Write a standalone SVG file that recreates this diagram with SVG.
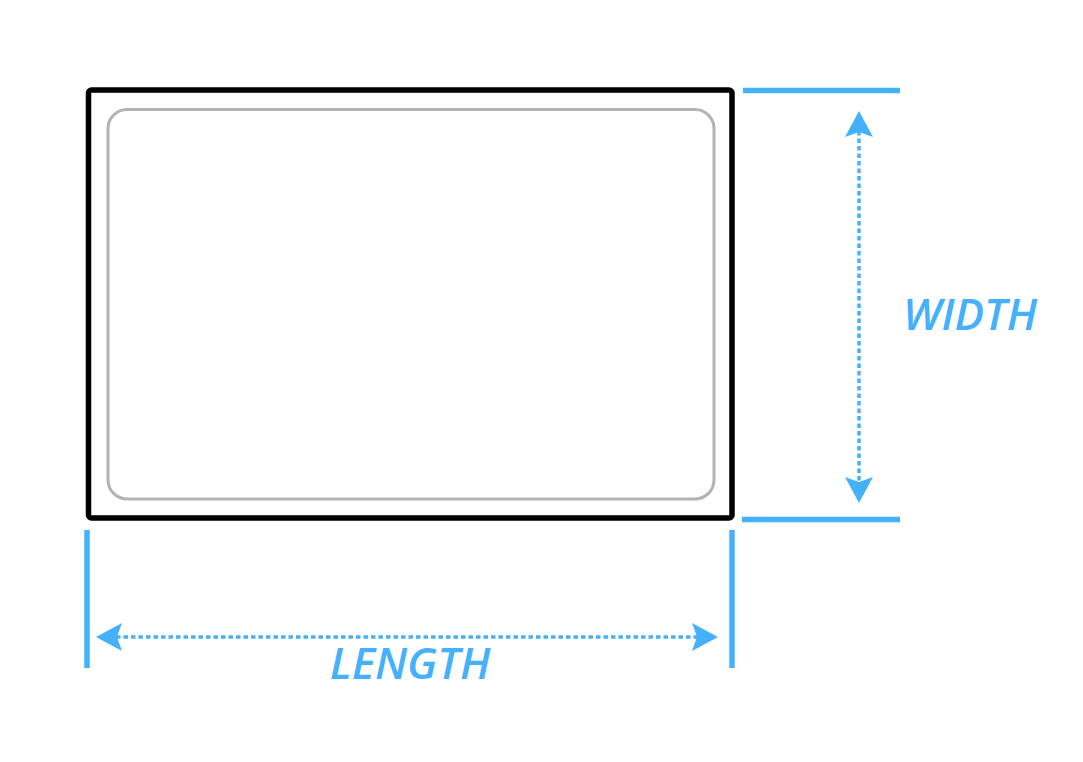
<svg xmlns="http://www.w3.org/2000/svg" width="1083" height="762" viewBox="0 0 1083 762">
  <defs>
    <style>
      .ext { stroke: #45b0fc; stroke-width: 5.5; fill: none; }
      .dim { stroke: #45b0fc; stroke-width: 3.5; stroke-dasharray: 4.5 3; fill: none; }
      .lbl { font-family: "Open Sans", "Liberation Sans", sans-serif; font-style: italic; font-weight: 600; font-size: 44px; fill: #45b0fc; }
    </style>
    <marker id="ah" viewBox="0 0 28 28" refX="6" refY="14" markerWidth="28" markerHeight="28" markerUnits="userSpaceOnUse" orient="auto-start-reverse">
      <path d="M0,0 L26,14 L0,28 L5,14 Z" fill="#45b0fc"/>
    </marker>
  </defs>
  <rect width="1083" height="762" fill="#ffffff"/>
  <g id="panel-outer">
    <rect x="88.5" y="90" width="643.5" height="428" rx="3" fill="#ffffff" stroke="#000000" stroke-width="5.5"/>
  </g>
  <g id="panel-inner">
    <rect x="108" y="109.5" width="606" height="389.5" rx="19" fill="none" stroke="#b3b3b3" stroke-width="3"/>
  </g>
  <g id="connectors">
    <line class="ext" x1="743" y1="90.5" x2="900" y2="90.5"/>
    <line class="ext" x1="742" y1="519.5" x2="900" y2="519.5"/>
    <line class="ext" x1="87" y1="530" x2="87" y2="668"/>
    <line class="ext" x1="732" y1="530" x2="732" y2="668"/>
    <line class="dim" x1="859" y1="131" x2="859" y2="483" marker-start="url(#ah)" marker-end="url(#ah)"/>
    <line class="dim" x1="116" y1="637" x2="698" y2="637" marker-start="url(#ah)" marker-end="url(#ah)"/>
  </g>
  <g id="label-width">
    <text class="lbl" x="903" y="330">WIDTH</text>
  </g>
  <g id="label-length">
    <text class="lbl" x="410" y="679" text-anchor="middle">LENGTH</text>
  </g>
</svg>
